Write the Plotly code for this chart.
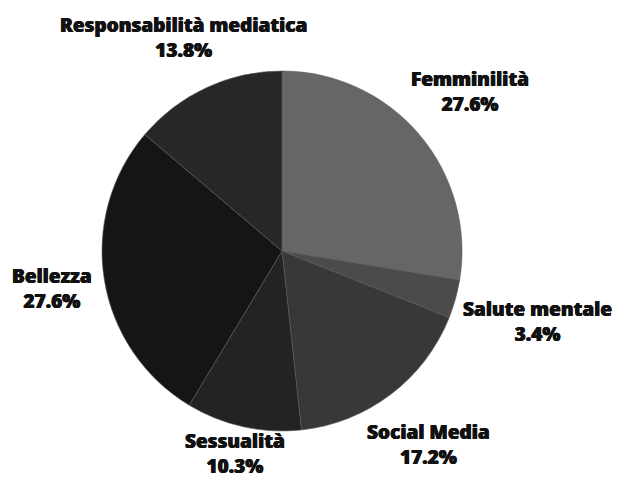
import math
import plotly.graph_objects as go

labels = ["Femminilità", "Salute mentale", "Social Media", "Sessualità", "Bellezza", "Responsabilità mediatica"]
counts = [8, 1, 5, 3, 8, 4]
colors = ["#666666", "#4b4b4b", "#383838", "#232323", "#151515", "#272727"]

# figure is placed by the page 8px from the top-left corner
W, H = 614, 471
CX, CY, R = 274, 243, 180          # pie centre / radius in figure pixels
FONT_SIZE = 19
CHAR_W = 10.2
BOX_H = 46
GAP = 10
EDGE = 26                          # half height of a two-line label box

fig = go.Figure(go.Pie(
    labels=labels,
    values=counts,
    sort=False,
    direction="clockwise",
    rotation=0,
    marker=dict(colors=colors, line=dict(width=0.6, color="#5a5a5a")),
    textinfo="none",
    hoverinfo="label+percent",
    domain=dict(x=[(CX - R) / W, (CX + R) / W],
                y=[(H - CY - R) / H, (H - CY + R) / H]),
))

font = dict(family="Open Sans", size=FONT_SIZE, color="#111111", weight=800,
            shadow="0.4px 0 0 #111111, -0.4px 0 0 #111111")

total = sum(counts)
cum = 0
annotations = []
for lab, v in zip(labels, counts):
    mid = (cum + v / 2) / total * 2 * math.pi
    cum += v
    ux, uy = math.sin(mid), -math.cos(mid)
    hw = CHAR_W * len(lab) / 2
    hh = BOX_H / 2
    t = 0.0
    while True:
        px, py = CX + ux * t, CY + uy * t
        dx = max(abs(px - CX) - hw, 0)
        dy = max(abs(py - CY) - hh, 0)
        if math.hypot(dx, dy) >= R + GAP:
            break
        t += 0.5
    # keep the label inside the figure
    py = min(max(py, EDGE), H - EDGE)
    pct = v / total * 100
    annotations.append(dict(
        x=px / W, y=1 - py / H, xref="paper", yref="paper",
        text=f"{lab}<br>{pct:.1f}%", showarrow=False,
        xanchor="center", yanchor="middle", align="center",
        font=font,
    ))

fig.update_layout(
    width=W, height=H,
    margin=dict(l=0, r=0, t=0, b=0),
    showlegend=False,
    paper_bgcolor="white",
    plot_bgcolor="white",
    annotations=annotations,
)
fig.write_html("out.html")
